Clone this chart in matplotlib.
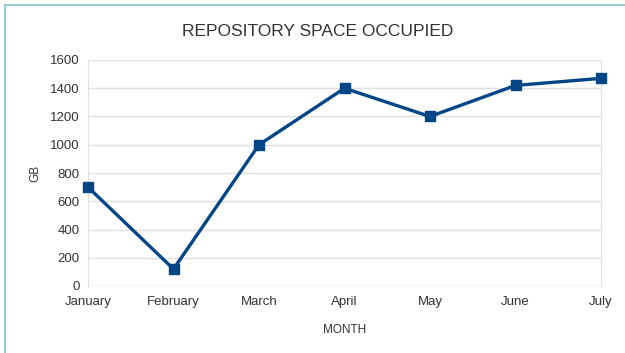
import matplotlib.pyplot as plt
from matplotlib.patches import Rectangle

months = ["January", "February", "March", "April", "May", "June", "July"]
space_gb = [700, 120, 1000, 1400, 1200, 1420, 1470]
y_ticks = [0, 200, 400, 600, 800, 1000, 1200, 1400, 1600]

plt.rcParams["font.family"] = ["Liberation Sans", "DejaVu Sans"]

fig = plt.figure(figsize=(6.25, 3.53), dpi=100)

# light blue frame around the chart
fig.patches.append(Rectangle((5 / 625, -0.1), 1.2, (353 - 5) / 353 + 0.1,
                             transform=fig.transFigure, fill=False,
                             edgecolor="#94c9d6", linewidth=1.5))

ax = fig.add_axes([88 / 625, 67 / 353, 513 / 625, 226 / 353])

x = list(range(len(months)))
ax.plot(x, space_gb, color="#004586", linewidth=2.4, marker="s",
        markersize=7, zorder=3, clip_on=False)

ax.set_xlim(0, len(months) - 1)
ax.set_ylim(0, 1600)
ax.set_xticks(x)
ax.set_xticklabels(months)
ax.set_yticks(y_ticks)

ax.grid(axis="y", color="#e0e0e0", linewidth=1)
for s in ["top", "bottom"]:
    ax.spines[s].set_visible(False)
for s in ["left", "right"]:
    ax.spines[s].set_color("#e0e0e0")
ax.tick_params(length=0, labelsize=9.5, colors="#333333", pad=6)
ax.tick_params(axis="x", pad=7)

fig.text(318 / 625, (353 - 31) / 353, "REPOSITORY SPACE OCCUPIED",
         fontsize=12.5, color="#333333", ha="center", va="center")
ax.set_xlabel("MONTH", fontsize=8.5, color="#333333", labelpad=12)
ax.set_ylabel("GB", fontsize=8.5, color="#333333", labelpad=6)

fig.savefig("out.png", dpi=100)
